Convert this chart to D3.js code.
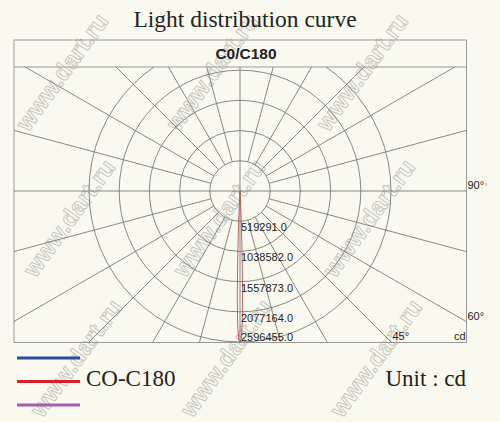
<!DOCTYPE html>
<html>
<head>
<meta charset="utf-8">
<script src="https://cdn.jsdelivr.net/npm/d3@7"></script>
<style>
  html, body { margin: 0; padding: 0; background: #faf9f0; }
  svg { display: block; }
</style>
</head>
<body>
<svg id="chart" width="500" height="422"></svg>
<script>
// ---- data ----
const title = "Light distribution curve";
const subTitle = "C0/C180";
const ringValues = [519291.0, 1038582.0, 1557873.0, 2077164.0, 2596455.0];
const spokeAngles = d3.range(0, 360, 15);           // degrees from the downward axis
const angleLabels = ["90°", "60°", "45°"];
const angleLabelAngles = [90, 60, 45];
const unitLabel = "cd";
// C0-C180 curve: angle (deg from nadir) and intensity (cd)
const curveAngles = [-90, -4, -3, -2.5, -2, -1.5, -1, -0.5, 0, 0.5, 1, 1.5, 2, 2.5, 3, 4, 90];
const curveValues = [0, 0, 150000, 500000, 1100000, 1800000, 2300000, 2550000, 2596455,
                     2550000, 2250000, 1700000, 1000000, 450000, 120000, 0, 0];
const legendNames = ["", "CO-C180", ""];
const legendColors = ["#2d4c9c", "#d6202c", "#a25cb0"];
const unitText = "Unit : cd";
const watermark = "www.dart.ru";

// ---- layout ----
const svg = d3.select("#chart");
const W = 500, H = 422;
const box = {x0: 14, x1: 466.5, y0: 40, yh: 67, y1: 342.5};
const cx = 240, cy = 191;
const rScale = d3.scaleLinear().domain([0, d3.max(ringValues)]).range([0, 151]);
const gridColor = "#7a7a7a";

svg.append("rect").attr("width", W).attr("height", H).attr("fill", "#faf9f0");

svg.append("defs").append("clipPath").attr("id", "plotClip")
  .append("rect")
  .attr("x", box.x0).attr("y", box.yh)
  .attr("width", box.x1 - box.x0).attr("height", box.y1 - box.yh);

// watermark (drawn first, faint)
const wm = svg.append("g").attr("pointer-events", "none");
for (let j = 0; j < 3; j++) {
  for (let i = 0; i < 3; i++) {
    const x = 62 + 150 * i + 7 * j, y = 72 + 146 * j - (j === 2 ? 6 : 0);
    wm.append("text")
      .attr("transform", `translate(${x},${y}) rotate(-54)`)
      .attr("text-anchor", "middle").attr("dy", "0.35em")
      .attr("font-family", "'Liberation Sans', Arial, sans-serif")
      .attr("font-weight", "bold").attr("font-size", 24)
      .attr("fill", "none").attr("stroke", "#c4c4ba").attr("stroke-width", 0.9)
      .text(watermark);
  }
}

// title
svg.append("text")
  .attr("x", 245).attr("y", 27)
  .attr("text-anchor", "middle")
  .attr("font-family", "'Liberation Serif', 'Times New Roman', serif")
  .attr("font-size", 23.5).attr("fill", "#222")
  .text(title);

// frame
svg.append("rect")
  .attr("x", box.x0).attr("y", box.y0)
  .attr("width", box.x1 - box.x0).attr("height", box.y1 - box.y0)
  .attr("fill", "none").attr("stroke", "#9a9a9a").attr("stroke-width", 1);
svg.append("line")
  .attr("x1", box.x0).attr("x2", box.x1).attr("y1", box.yh).attr("y2", box.yh)
  .attr("stroke", "#9a9a9a").attr("stroke-width", 1);

svg.append("text")
  .attr("x", 246).attr("y", 59)
  .attr("text-anchor", "middle")
  .attr("font-family", "'Liberation Sans', Arial, sans-serif")
  .attr("font-weight", "bold")
  .attr("font-size", 15.5).attr("fill", "#222")
  .text(subTitle);

// polar grid
const plot = svg.append("g").attr("clip-path", "url(#plotClip)");
const toRad = d => d * Math.PI / 180;
const px = (r, a) => cx + r * Math.sin(toRad(a));
const py = (r, a) => cy + r * Math.cos(toRad(a));

plot.selectAll("circle.ring").data(ringValues).join("circle")
  .attr("class", "ring")
  .attr("cx", cx).attr("cy", cy)
  .attr("r", d => rScale(d))
  .attr("fill", "none").attr("stroke", gridColor).attr("stroke-width", 0.9);

const rInner = rScale(ringValues[0]);
plot.selectAll("line.spoke").data(spokeAngles).join("line")
  .attr("class", "spoke")
  .attr("x1", d => (d % 90 === 0) ? cx : px(rInner, d))
  .attr("y1", d => (d % 90 === 0) ? cy : py(rInner, d))
  .attr("x2", d => px(600, d))
  .attr("y2", d => py(600, d))
  .attr("stroke", gridColor).attr("stroke-width", 0.9);

// ring value labels
svg.selectAll("text.rv").data(ringValues).join("text")
  .attr("class", "rv")
  .attr("x", cx + 1)
  .attr("y", (d, i) => i === ringValues.length - 1 ? box.y1 - 1.5 : cy + rScale(d) + 10)
  .attr("font-family", "'Liberation Sans', Arial, sans-serif")
  .attr("font-size", 11).attr("fill", "#222")
  .text(d => d.toFixed(1));

// curve
const line = d3.lineRadial()
  .angle((d, i) => Math.PI - toRad(curveAngles[i]))
  .radius((d, i) => rScale(curveValues[i]));
plot.append("path")
  .datum(curveAngles)
  .attr("transform", `translate(${cx},${cy})`)
  .attr("d", line)
  .attr("fill", "none")
  .attr("stroke", "#b04046").attr("stroke-width", 0.8);

// angle labels
const lblFont = "'Liberation Sans', Arial, sans-serif";
angleLabelAngles.forEach((a, i) => {
  const t = Math.tan(toRad(a));
  let x, y;
  const dxEdge = box.x1 - cx;
  const yAtEdge = a === 90 ? cy : cy + dxEdge / t;
  if (yAtEdge <= box.y1) {
    x = box.x1 + 1; y = yAtEdge - 2;
  } else {
    x = cx + (box.y1 - cy) * t + 1; y = box.y1 - 3;
  }
  const txt = svg.append("text")
    .attr("x", x).attr("y", y)
    .attr("font-family", lblFont).attr("font-size", 11).attr("fill", "#222")
    .text(angleLabels[i]);
  if (a === 90) txt.append("tspan").attr("font-size", 8).attr("fill", "#888").text("°");
});
svg.append("text")
  .attr("x", box.x1 - 1).attr("y", box.y1 - 3)
  .attr("text-anchor", "end")
  .attr("font-family", lblFont).attr("font-size", 11).attr("fill", "#222")
  .text(unitLabel);

// legend
const legendY = [358, 381.5, 405];
svg.selectAll("line.leg").data(legendColors).join("line")
  .attr("class", "leg")
  .attr("x1", 17).attr("x2", 80)
  .attr("y1", (d, i) => legendY[i]).attr("y2", (d, i) => legendY[i])
  .attr("stroke", d => d).attr("stroke-width", 3);
svg.selectAll("text.leg").data(legendNames).join("text")
  .attr("class", "leg")
  .attr("x", 86).attr("y", (d, i) => legendY[i] + 4.5)
  .attr("font-family", "'Liberation Serif', 'Times New Roman', serif")
  .attr("font-size", 23).attr("fill", "#222")
  .text(d => d);
svg.append("text")
  .attr("x", 466).attr("y", 386)
  .attr("text-anchor", "end")
  .attr("font-family", "'Liberation Serif', 'Times New Roman', serif")
  .attr("font-size", 23).attr("fill", "#222")
  .text(unitText);
</script>
</body>
</html>
